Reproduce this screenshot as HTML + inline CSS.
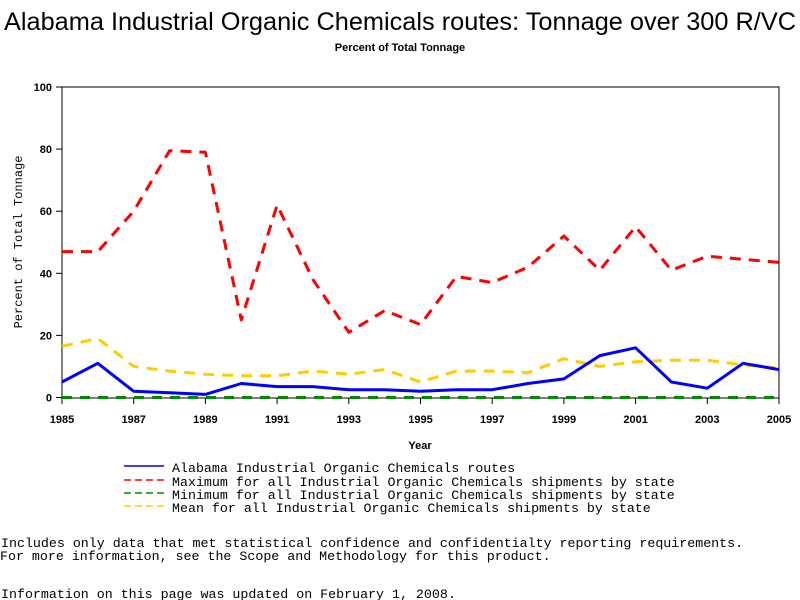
<!DOCTYPE html>
<html><head><meta charset="utf-8"><style>
body{margin:0;background:#fff;}
svg{display:block;}
.m{font-family:"Liberation Mono",monospace;font-size:13.3px;}
</style></head><body>
<svg id="chart" width="800" height="600" xmlns="http://www.w3.org/2000/svg">
<text x="400" y="30" text-anchor="middle" font-family="Liberation Sans, sans-serif" font-size="25" textLength="792" lengthAdjust="spacingAndGlyphs">Alabama Industrial Organic Chemicals routes: Tonnage over 300 R/VC</text>
<text x="400" y="51" text-anchor="middle" font-family="Liberation Sans, sans-serif" font-size="11" font-weight="bold">Percent of Total Tonnage</text>
<rect x="62" y="87" width="717" height="311" fill="none" stroke="#000" stroke-width="1"/>
<g id="yaxis"></g>
<g id="xaxis"></g>
<g id="series"></g>
<text transform="translate(22,242) rotate(-90)" text-anchor="middle" font-family="Liberation Mono, monospace" font-size="12">Percent of Total Tonnage</text>
<text x="420" y="449" text-anchor="middle" font-family="Liberation Sans, sans-serif" font-size="11" font-weight="bold">Year</text>
<g>
 <g><line x1="124" y1="466" x2="164" y2="466" stroke="#00f" stroke-width="1.5"/><text class="m" x="172" y="472">Alabama Industrial Organic Chemicals routes</text></g>
 <g><line x1="124" y1="480" x2="164" y2="480" stroke="#f00" stroke-width="1.5" stroke-dasharray="7,4"/><text class="m" x="172" y="486">Maximum for all Industrial Organic Chemicals shipments by state</text></g>
 <g><line x1="124" y1="493" x2="164" y2="493" stroke="#080" stroke-width="1.5" stroke-dasharray="7,4"/><text class="m" x="172" y="499">Minimum for all Industrial Organic Chemicals shipments by state</text></g>
 <g><line x1="124" y1="506" x2="164" y2="506" stroke="#fc0" stroke-width="1.5" stroke-dasharray="7,4"/><text class="m" x="172" y="512">Mean for all Industrial Organic Chemicals shipments by state</text></g>
</g>
<text class="m" x="1" y="547">Includes only data that met statistical confidence and confidentialty reporting requirements.</text>
<text class="m" x="0" y="560">For more information, see the Scope and Methodology for this product.</text>
<text class="m" x="1" y="598">Information on this page was updated on February 1, 2008.</text>
</svg>
<script>
const years=[1985,1986,1987,1988,1989,1990,1991,1992,1993,1994,1995,1996,1997,1998,1999,2000,2001,2002,2003,2004,2005];
const alabama=[5,11,2,1.5,1,4.5,3.5,3.5,2.5,2.5,2,2.5,2.5,4.5,6,13.5,16,5,3,11,9];
const maximum=[47,47,60,79.5,79,25,62,38,21,28,23.5,39,37,42,52,41,55,41,45.5,44.5,43.5];
const minimum=[0,0,0,0,0,0,0,0,0,0,0,0,0,0,0,0,0,0,0,0,0];
const mean=[16.5,19,10,8.5,7.5,7,7,8.5,7.5,9,5,8.5,8.5,8,12.5,10,11.5,12,12,10.5,9.5];
const yTicks=[0,20,40,60,80,100];
const xTicks=[1985,1987,1989,1991,1993,1995,1997,1999,2001,2003,2005];
const NS="http://www.w3.org/2000/svg";
const X0=62,X1=779,Y0=397.5,Y1=87;
function xs(v){return X0+(v-1985)/20*(X1-X0);}
function ys(v){return Y0-v/100*(Y0-Y1);}
function mk(tag,attrs,parent){const e=document.createElementNS(NS,tag);for(const k in attrs)e.setAttribute(k,attrs[k]);parent.appendChild(e);return e;}
const ya=document.getElementById('yaxis'),xa=document.getElementById('xaxis'),sg=document.getElementById('series');
yTicks.forEach(t=>{
 const l=mk('line',{x1:56,x2:62,y1:ys(t),y2:ys(t),stroke:'#000'},ya);
 
 
 const tx=mk('text',{x:52,y:ys(t)+4,'text-anchor':'end','font-family':'Liberation Sans, sans-serif','font-size':'11','font-weight':'bold'},ya);
 tx.textContent=t;
 
 
});
xTicks.forEach(t=>{
 const l=mk('line',{x1:xs(t),x2:xs(t),y1:398,y2:404,stroke:'#000'},xa);
 
 
 const tx=mk('text',{x:xs(t),y:423,'text-anchor':'middle','font-family':'Liberation Sans, sans-serif','font-size':'11','font-weight':'bold'},xa);
 tx.textContent=t;
 
 
});
function line(data,color,dash,name){
 const pts=data.map((v,i)=>xs(years[i]).toFixed(1)+','+ys(v).toFixed(1)).join(' ');
 const p=mk('polyline',{points:pts,fill:'none',stroke:color,'stroke-width':3,'stroke-dasharray':dash,'stroke-linejoin':'round'},sg);
 
 
}
line(minimum,'#080','10,8','series-minimum');
line(maximum,'#f00','11,8','series-maximum');
line(mean,'#fc0','11,8','series-mean');
line(alabama,'#00f','none','series-alabama');
</script>
</body></html>
